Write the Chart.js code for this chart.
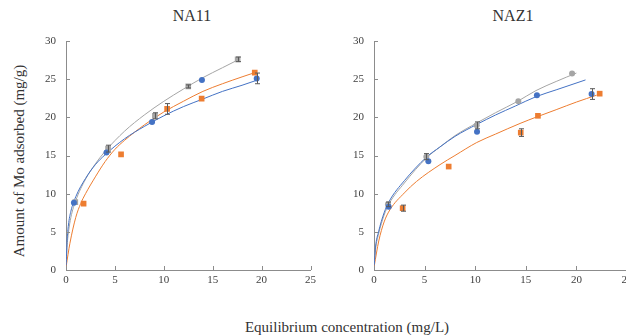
<!DOCTYPE html>
<html>
<head>
<meta charset="utf-8">
<script src="https://cdn.jsdelivr.net/npm/chart.js@4"></script>
<style>
  body { margin: 0; width: 626px; height: 335px; overflow: hidden; background: #fff; position: relative; font-family: "Liberation Serif", serif; color: #333; }
  .box { position: absolute; top: 0; width: 320px; height: 300px; }
  .txt { position: absolute; white-space: nowrap; transform: translate(-50%, -50%); }
</style>
</head>
<body>
<div class="txt" style="left:192px; top:16px; font-size:16px;">NA11</div>
<div class="txt" style="left:513px; top:16px; font-size:16px;">NAZ1</div>
<div class="txt" style="left:19px; top:161px; font-size:15px; transform: translate(-50%, -50%) rotate(-90deg);">Amount of Mo adsorbed (mg/g)</div>
<div class="txt" style="left:347px; top:327px; font-size:15px;">Equilibrium concentration (mg/L)</div>
<div class="box" style="left:0px;"><canvas id="left" width="320" height="300"></canvas></div>
<div class="box" style="left:320px;"><canvas id="right" width="320" height="300"></canvas></div>
<script>
// axis ticks
const xTicks = [0, 5, 10, 15, 20, 25];
const yTicks = [0, 5, 10, 15, 20, 25, 30];

// NA11 measured points
const na11BlueX = [0.81, 4.14, 8.8, 13.9, 19.5];
const na11BlueY = [8.8, 15.4, 19.4, 24.9, 25.1];
const na11BlueErr = [0, 0, 0, 0, 0.7];
const na11OrangeX = [1.8, 5.63, 10.34, 13.87, 19.3];
const na11OrangeY = [8.7, 15.15, 21.1, 22.45, 25.85];
const na11OrangeErr = [0, 0, 0.7, 0, 0];
const na11GrayX = [0.95, 4.3, 9.09, 12.5, 17.55];
const na11GrayY = [8.9, 15.9, 20.2, 24.05, 27.6];
const na11GrayErr = [0, 0.45, 0.4, 0.2, 0.3];

// NA11 fitted curves
const na11BlueFitX = [0.02, 0.1, 0.25, 0.5, 1, 2, 3, 4, 6, 8, 10, 12, 14, 16, 18, 19.6];
const na11BlueFitY = [0.6, 3.6, 5.9, 7.7, 9.6, 12.0, 13.8, 15.1, 17.2, 18.8, 20.2, 21.4, 22.4, 23.4, 24.2, 24.9];
const na11OrangeFitX = [0.02, 0.4, 1, 1.5, 2, 3, 4, 5, 6, 8, 10, 12, 14, 16, 18, 19.4];
const na11OrangeFitY = [0.5, 3.5, 6.9, 8.7, 10.0, 12.2, 14.2, 15.8, 17.0, 19.0, 20.7, 22.1, 23.4, 24.4, 25.3, 25.9];
const na11GrayFitX = [0.02, 0.1, 0.25, 0.5, 1, 2, 3, 4, 6, 8, 10, 12, 14, 16, 17.7];
const na11GrayFitY = [0.6, 2.9, 4.9, 6.9, 9.1, 11.9, 13.9, 15.55, 18.2, 20.3, 22.1, 23.7, 25.2, 26.5, 27.6];

// NAZ1 measured points
const naz1BlueX = [1.45, 5.37, 10.18, 16.1, 21.5];
const naz1BlueY = [8.3, 14.25, 18.1, 22.9, 23.05];
const naz1BlueErr = [0, 0, 0, 0, 0.7];
const naz1OrangeX = [2.83, 7.38, 14.5, 16.2, 22.3];
const naz1OrangeY = [8.1, 13.55, 18.0, 20.2, 23.1];
const naz1OrangeErr = [0.4, 0, 0.5, 0, 0];
const naz1GrayX = [1.38, 5.17, 10.15, 14.26, 19.57];
const naz1GrayY = [8.6, 14.85, 18.95, 22.1, 25.75];
const naz1GrayErr = [0.3, 0.4, 0.45, 0, 0];

// NAZ1 fitted curves
const naz1BlueFitX = [0.02, 0.15, 0.45, 1, 1.5, 3, 5.2, 6.5, 8, 10.2, 12, 14, 16, 18, 20.9];
const naz1BlueFitY = [0.6, 3.0, 5.0, 7.5, 9.0, 11.7, 14.8, 16.1, 17.5, 19.1, 20.3, 21.5, 22.7, 23.6, 24.9];
const naz1OrangeFitX = [0.02, 0.47, 1, 1.58, 3, 4.2, 6.52, 8, 10.15, 12, 14.43, 16.17, 18, 20, 22];
const naz1OrangeFitY = [0.5, 3.8, 6.3, 7.9, 10.1, 11.6, 13.8, 15.0, 16.7, 17.8, 19.2, 20.1, 21.0, 22.0, 22.9];
const naz1GrayFitX = [0.02, 0.15, 0.45, 1, 1.5, 3, 5.2, 6.5, 8, 10.2, 12, 14.2, 16, 18, 20];
const naz1GrayFitY = [0.6, 2.7, 4.7, 7.2, 8.7, 11.4, 14.7, 16.1, 17.6, 19.3, 20.6, 22.1, 23.5, 24.7, 25.8];

const BLUE = "#4472c4", ORANGE = "#ed7d31", GRAY = "#a5a5a5";
const AXIS = "#8c8c8c";

function pts(xs, ys) {
    return xs.map((x, i) => ({ x: x, y: ys[i] }));
}

function markers(xs, ys, errs, color, style) {
    return {
        data: pts(xs, ys),
        errors: errs,
        backgroundColor: color,
        borderColor: color,
        pointStyle: style,
        pointRadius: style === "rect" ? 4 : 3,
        pointBorderWidth: 0,
        showLine: false,
        order: 1
    };
}

function curve(xs, ys, color) {
    return {
        data: pts(xs, ys),
        borderColor: color,
        borderWidth: 1,
        pointRadius: 0,
        showLine: true,
        cubicInterpolationMode: "monotone",
        order: 2
    };
}

// error bars drawn from the dataset's errors array
const errorBars = {
    id: "errorBars",
    afterDatasetsDraw(chart) {
        const ctx = chart.ctx, xs = chart.scales.x, ys = chart.scales.y;
        ctx.save();
        ctx.strokeStyle = "#595959";
        ctx.lineWidth = 1;
        chart.data.datasets.forEach(ds => {
            if (!ds.errors) return;
            ds.data.forEach((p, j) => {
                const e = ds.errors[j];
                if (!e) return;
                const x = Math.round(xs.getPixelForValue(p.x)) + 0.5;
                const y1 = ys.getPixelForValue(p.y - e);
                const y2 = ys.getPixelForValue(p.y + e);
                ctx.beginPath();
                ctx.moveTo(x, y1); ctx.lineTo(x, y2);
                ctx.moveTo(x - 2.5, y1); ctx.lineTo(x + 2.5, y1);
                ctx.moveTo(x - 2.5, y2); ctx.lineTo(x + 2.5, y2);
                ctx.stroke();
            });
        });
        ctx.restore();
    }
};

// short tick marks pointing into the plot, as in the original
const innerTicks = {
    id: "innerTicks",
    afterDraw(chart) {
        const ctx = chart.ctx, a = chart.chartArea;
        const xs = chart.scales.x, ys = chart.scales.y;
        ctx.save();
        ctx.strokeStyle = AXIS;
        ctx.lineWidth = 1;
        ctx.beginPath();
        xs.ticks.forEach(t => {
            const px = Math.round(xs.getPixelForValue(t.value)) + 0.5;
            ctx.moveTo(px, a.bottom); ctx.lineTo(px, a.bottom - 4);
        });
        ys.ticks.forEach(t => {
            const py = Math.round(ys.getPixelForValue(t.value)) + 0.5;
            ctx.moveTo(a.left, py); ctx.lineTo(a.left + 4, py);
        });
        ctx.stroke();
        ctx.restore();
    }
};

function makeChart(id, datasets, yWidth, padRight) {
    const tickFont = { family: "'Liberation Serif', serif", size: 11 };
    new Chart(document.getElementById(id), {
        type: "scatter",
        data: { datasets: datasets },
        options: {
            responsive: false,
            animation: false,
            layout: { padding: { left: 0, top: 41, right: padRight, bottom: 10 } },
            plugins: { legend: { display: false }, tooltip: { enabled: false } },
            scales: {
                x: {
                    type: "linear",
                    min: xTicks[0], max: xTicks[xTicks.length - 1],
                    afterBuildTicks: s => { s.ticks = xTicks.map(v => ({ value: v })); },
                    afterFit: s => { s.height = 20; },
                    grid: { display: true, drawOnChartArea: false, drawTicks: false },
                    border: { display: true, color: AXIS, width: 1 },
                    ticks: { padding: 4, color: "#404040", font: tickFont, maxRotation: 0 }
                },
                y: {
                    type: "linear",
                    min: yTicks[0], max: yTicks[yTicks.length - 1],
                    afterBuildTicks: s => { s.ticks = yTicks.map(v => ({ value: v })); },
                    afterFit: s => { s.width = yWidth; },
                    grid: { display: true, drawOnChartArea: false, drawTicks: false },
                    border: { display: true, color: AXIS, width: 1 },
                    ticks: { padding: 10, color: "#404040", font: tickFont }
                }
            }
        },
        plugins: [errorBars, innerTicks]
    });
}

function drawAll() {
    makeChart("left", [
        curve(na11BlueFitX, na11BlueFitY, BLUE),
        curve(na11OrangeFitX, na11OrangeFitY, ORANGE),
        curve(na11GrayFitX, na11GrayFitY, GRAY),
        markers(na11BlueX, na11BlueY, na11BlueErr, BLUE, "circle"),
        markers(na11OrangeX, na11OrangeY, na11OrangeErr, ORANGE, "rect"),
        markers(na11GrayX, na11GrayY, na11GrayErr, GRAY, "rect")
    ], 66, 8);

    makeChart("right", [
        curve(naz1BlueFitX, naz1BlueFitY, BLUE),
        curve(naz1OrangeFitX, naz1OrangeFitY, ORANGE),
        curve(naz1GrayFitX, naz1GrayFitY, GRAY),
        markers(naz1BlueX, naz1BlueY, naz1BlueErr, BLUE, "circle"),
        markers(naz1OrangeX, naz1OrangeY, naz1OrangeErr, ORANGE, "rect"),
        markers(naz1GrayX, naz1GrayY, naz1GrayErr, GRAY, "circle")
    ], 54, 13);
}

// make sure the serif face is ready before the canvas text is drawn
document.fonts.load("11px 'Liberation Serif'").then(drawAll, drawAll);
</script>
</body>
</html>
